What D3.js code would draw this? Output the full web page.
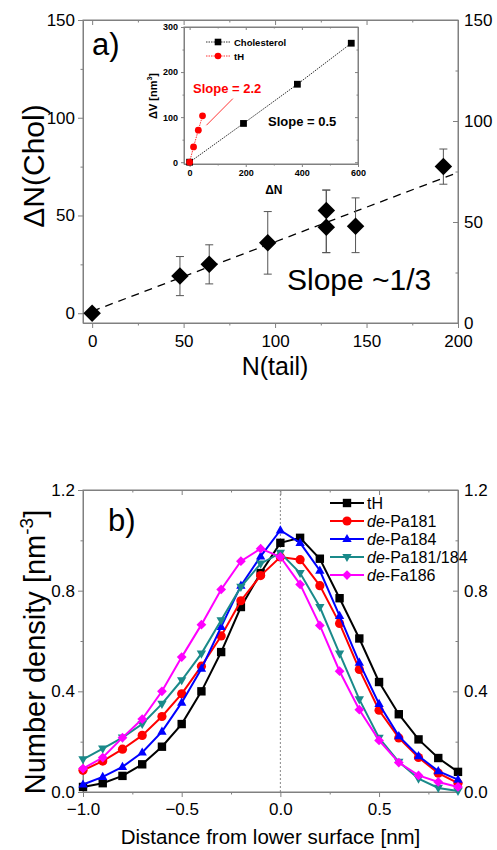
<!DOCTYPE html>
<html>
<head>
<meta charset="utf-8">
<script src="https://cdn.jsdelivr.net/npm/d3@7"></script>
<style>
  body { margin: 0; background: #fff; }
  svg { font-family: "Liberation Sans", Arial, sans-serif; }
  .ax path, .ax line { stroke: #808080; }
  .ax text { fill: #000; }
</style>
</head>
<body>
<svg id="chart" width="497" height="850"></svg>
<script>
// ---- panel a) data ----
const nTail = [0, 48, 64, 96, 128, 128, 144, 192];
const nChol = [0, 19, 25, 36, 44, 52.5, 44.5, 75];
const errLo = [null, 9, 15, 20, 31, 31, 31, 66];
const errHi = [null, 29, 35, 52, 63, 63, 59, 84];
const fitLine = [[0, 1], [200, 72]];

// inset data
const cholN = [0, 192, 384, 576];
const cholV = [0, 86, 173, 264];
const tHN = [0, 14, 31, 46];
const tHV = [0, 34, 71, 103];
const arrowLine = [[60, 82], [154, 141]];

// ---- panel b) data ----
const dist = [-1.0, -0.9, -0.8, -0.7, -0.6, -0.5, -0.4, -0.3, -0.2, -0.1, 0.0, 0.1, 0.2, 0.3, 0.4, 0.5, 0.6, 0.7, 0.8, 0.9];
const tH      = [0.02, 0.035, 0.064, 0.11, 0.18, 0.27, 0.40, 0.556, 0.735, 0.87, 0.99, 1.01, 0.927, 0.77, 0.61, 0.437, 0.309, 0.209, 0.135, 0.08];
const pa181   = [0.086, 0.123, 0.17, 0.225, 0.30, 0.39, 0.50, 0.62, 0.76, 0.86, 0.934, 0.923, 0.82, 0.67, 0.487, 0.325, 0.215, 0.137, 0.075, 0.035];
const pa184   = [0.03, 0.06, 0.10, 0.157, 0.24, 0.355, 0.49, 0.656, 0.82, 0.936, 1.04, 0.99, 0.88, 0.70, 0.514, 0.35, 0.222, 0.143, 0.083, 0.049];
const pa181184 = [0.13, 0.172, 0.216, 0.27, 0.35, 0.444, 0.55, 0.682, 0.815, 0.907, 0.95, 0.87, 0.735, 0.55, 0.368, 0.215, 0.12, 0.053, 0.016, 0.004];
const fa186   = [0.093, 0.137, 0.216, 0.29, 0.40, 0.536, 0.665, 0.805, 0.917, 0.967, 0.934, 0.825, 0.662, 0.48, 0.327, 0.205, 0.117, 0.066, 0.04, 0.02];

const seriesNames = ["tH", "Pa181", "Pa184", "Pa181/184", "Fa186"];
const seriesPrefix = ["", "de-", "de-", "de-", "de-"];
const seriesVals = [tH, pa181, pa184, pa181184, fa186];
const seriesColors = ["#000000", "#ff0000", "#0000ff", "#1a8a8a", "#ff00ff"];
const seriesShapes = ["square", "circle", "triangle", "down", "diamond"];

const svg = d3.select("#chart");
const frame = "#808080";

function markerPath(shape, s) {
  if (shape === "square") return `M${-s},${-s}H${s}V${s}H${-s}Z`;
  if (shape === "diamond") return `M0,${-s * 1.25}L${s * 1.25},0L0,${s * 1.25}L${-s * 1.25},0Z`;
  if (shape === "triangle") return `M0,${-s * 1.3}L${s * 1.2},${s * 0.8}L${-s * 1.2},${s * 0.8}Z`;
  if (shape === "down") return `M0,${s * 1.3}L${s * 1.2},${-s * 0.8}L${-s * 1.2},${-s * 0.8}Z`;
  return null;
}

// draws box axes with mirrored ticks
function boxAxes(g, x, y, opts) {
  const [x0, x1] = x.range();
  const [y0, y1] = y.range();
  // bottom
  g.append("g").attr("class", "ax").attr("transform", `translate(0,${y0})`)
    .call(d3.axisBottom(x).tickValues(opts.xMajor).tickSize(opts.tick).tickPadding(opts.xpad || 3).tickSizeOuter(0).tickFormat(opts.xFmt))
    .call(a => a.selectAll("text").attr("font-size", opts.fs).attr("font-weight", opts.fw || null));
  g.append("g").attr("class", "ax").attr("transform", `translate(0,${y0})`)
    .call(d3.axisBottom(x).tickValues(opts.xMinor).tickSize(opts.tick / 2).tickSizeOuter(0).tickFormat(""));
  // top (inward)
  g.append("g").attr("class", "ax").attr("transform", `translate(0,${y1})`)
    .call(d3.axisBottom(x).tickValues(opts.xMajor).tickSize(opts.tick).tickSizeOuter(0).tickFormat(""));
  g.append("g").attr("class", "ax").attr("transform", `translate(0,${y1})`)
    .call(d3.axisBottom(x).tickValues(opts.xMinor).tickSize(opts.tick / 2).tickSizeOuter(0).tickFormat(""));
  // left
  g.append("g").attr("class", "ax").attr("transform", `translate(${x0},0)`)
    .call(d3.axisLeft(y).tickValues(opts.yMajor).tickSize(opts.tick).tickSizeOuter(0).tickFormat(opts.yFmt))
    .call(a => a.selectAll("text").attr("font-size", opts.fs).attr("font-weight", opts.fw || null));
  g.append("g").attr("class", "ax").attr("transform", `translate(${x0},0)`)
    .call(d3.axisLeft(y).tickValues(opts.yMinor).tickSize(opts.tick / 2).tickSizeOuter(0).tickFormat(""));
  // right (inward ticks)
  const yr = opts.yRight || y;
  g.append("g").attr("class", "ax").attr("transform", `translate(${x1},0)`)
    .call(d3.axisLeft(yr).tickValues(opts.yMajor).tickSize(opts.tick).tickSizeOuter(0).tickFormat(""));
  g.append("g").attr("class", "ax").attr("transform", `translate(${x1},0)`)
    .call(d3.axisLeft(yr).tickValues(opts.yMinor).tickSize(opts.tick / 2).tickSizeOuter(0).tickFormat(""));
  if (opts.rightLabels) {
    g.append("g").attr("class", "ax").attr("transform", `translate(${x1},0)`)
      .call(d3.axisRight(yr).tickValues(opts.yMajor).tickSize(0).tickPadding(6).tickFormat(opts.yFmt))
      .call(a => a.select(".domain").remove())
      .call(a => a.selectAll("text").attr("font-size", opts.fs));
  }
  g.append("rect").attr("x", x0).attr("y", y1).attr("width", x1 - x0).attr("height", y0 - y1)
    .attr("fill", "none").attr("stroke", frame).attr("stroke-width", 1);
}

// ================= panel a =================
const xa = d3.scaleLinear().domain([-5, 200]).range([83, 458]);
const ya = d3.scaleLinear().domain([-5, 150]).range([323, 20]);
const yaR = d3.scaleLinear().domain([0, 150]).range([323, 20]);
const ga = svg.append("g");

boxAxes(ga, xa, ya, {
  xMajor: [0, 50, 100, 150, 200], xMinor: [25, 75, 125, 175],
  yMajor: [0, 50, 100, 150], yMinor: [25, 75, 125],
  tick: 5, fs: 17, xpad: 7, xFmt: d3.format("d"), yFmt: d3.format("d"),
  yRight: yaR, rightLabels: true
});

ga.append("path")
  .attr("d", d3.line().x(d => xa(d[0])).y(d => ya(d[1]))(fitLine))
  .attr("stroke", "#000").attr("stroke-width", 1.3).attr("stroke-dasharray", "8,6").attr("fill", "none");

nTail.forEach((n, i) => {
  if (errLo[i] === null) return;
  const cx = xa(n);
  ga.append("path")
    .attr("d", `M${cx},${ya(errLo[i])}V${ya(errHi[i])}M${cx - 4},${ya(errLo[i])}H${cx + 4}M${cx - 4},${ya(errHi[i])}H${cx + 4}`)
    .attr("stroke", "#555").attr("stroke-width", 1).attr("fill", "none");
});
ga.selectAll(".dia").data(nTail).join("path")
  .attr("transform", (d, i) => `translate(${xa(d)},${ya(nChol[i])})`)
  .attr("d", markerPath("diamond", 7)).attr("fill", "#000");

ga.append("text").attr("x", 92).attr("y", 55).attr("font-size", 31).text("a)");
ga.append("text").attr("x", 287).attr("y", 290).attr("font-size", 30).text("Slope ~1/3");
ga.append("text").attr("transform", "translate(44,166) rotate(-90)").attr("text-anchor", "middle")
  .attr("font-size", 30).text("ΔN(Chol)");
ga.append("text").attr("x", xa(100)).attr("y", 375).attr("text-anchor", "middle")
  .attr("font-size", 25).text("N(tail)");

// inset
const xi = d3.scaleLinear().domain([-20, 600]).range([184, 358]);
const yi = d3.scaleLinear().domain([-4, 300]).range([164, 27]);
const gi = svg.append("g");
gi.append("rect").attr("x", 184).attr("y", 27).attr("width", 174).attr("height", 137).attr("fill", "#fff");
boxAxes(gi, xi, yi, {
  xMajor: [0, 200, 400, 600], xMinor: [100, 300, 500],
  yMajor: [0, 100, 200, 300], yMinor: [50, 150, 250],
  tick: 3, fs: 9, fw: "bold", xFmt: d3.format("d"), yFmt: d3.format("d")
});
const lineI = d3.line().x(d => xi(d[0])).y(d => yi(d[1]));
gi.append("path").attr("d", lineI(cholN.map((n, i) => [n, cholV[i]])))
  .attr("stroke", "#000").attr("stroke-width", 0.8).attr("stroke-dasharray", "1.5,1").attr("fill", "none");
gi.append("path").attr("d", lineI(tHN.map((n, i) => [n, tHV[i]])))
  .attr("stroke", "#ff0000").attr("stroke-width", 0.8).attr("stroke-dasharray", "1.5,1").attr("fill", "none");
gi.append("path").attr("d", lineI(arrowLine)).attr("stroke", "#ff0000").attr("stroke-width", 0.8).attr("fill", "none");
gi.selectAll(".sq").data(cholN).join("path")
  .attr("transform", (d, i) => `translate(${xi(d)},${yi(cholV[i])})`)
  .attr("d", markerPath("square", 3.4)).attr("fill", "#000");
gi.selectAll(".ci").data(tHN).join("circle")
  .attr("cx", d => xi(d)).attr("cy", (d, i) => yi(tHV[i])).attr("r", 3.4).attr("fill", "#ff0000");

// inset legend
[["Cholesterol", "#000", "square"], ["tH", "#ff0000", "circle"]].forEach((it, i) => {
  const ly = 42 + i * 14;
  gi.append("line").attr("x1", 206).attr("x2", 230).attr("y1", ly).attr("y2", ly)
    .attr("stroke", it[1]).attr("stroke-width", 0.8).attr("stroke-dasharray", "1.5,1");
  if (it[2] === "square") gi.append("path").attr("transform", `translate(218,${ly})`).attr("d", markerPath("square", 3.3)).attr("fill", it[1]);
  else gi.append("circle").attr("cx", 218).attr("cy", ly).attr("r", 3.3).attr("fill", it[1]);
  gi.append("text").attr("x", 234).attr("y", ly + 3.5).attr("font-size", 9.5).attr("font-weight", "bold").text(it[0]);
});
gi.append("text").attr("x", 193).attr("y", 93).attr("font-size", 13).attr("font-weight", "bold").attr("fill", "#ff0000").text("Slope = 2.2");
gi.append("text").attr("x", 268).attr("y", 126).attr("font-size", 13).attr("font-weight", "bold").text("Slope = 0.5");
gi.append("text").attr("x", xi(300)).attr("y", 194).attr("text-anchor", "middle").attr("font-size", 12).attr("font-weight", "bold").text("ΔN");
const vl = gi.append("text").attr("transform", "translate(157,96) rotate(-90)").attr("text-anchor", "middle")
  .attr("font-size", 11).attr("font-weight", "bold");
vl.append("tspan").text("ΔV [nm");
vl.append("tspan").attr("font-size", 7).attr("dy", -5).text("3");
vl.append("tspan").attr("dy", 5).text("]");

// ================= panel b =================
const xb = d3.scaleLinear().domain([-1.0, 0.9]).range([83, 458]);
const yb = d3.scaleLinear().domain([0, 1.2]).range([792, 490]);
const gb = svg.append("g");

gb.append("line").attr("x1", xb(0)).attr("x2", xb(0)).attr("y1", 490).attr("y2", 792)
  .attr("stroke", "#888").attr("stroke-width", 1).attr("stroke-dasharray", "2,2");

boxAxes(gb, xb, yb, {
  xMajor: [-1.0, -0.5, 0.0, 0.5], xMinor: [-0.75, -0.25, 0.25, 0.75],
  yMajor: [0, 0.4, 0.8, 1.2], yMinor: [0.2, 0.6, 1.0],
  tick: 5, fs: 17, xpad: 6, xFmt: d3.format(".1f"), yFmt: d3.format(".1f"),
  rightLabels: true
});

const lineB = d3.line().x((d, i) => xb(dist[i])).y(d => yb(d));
seriesVals.forEach((vals, k) => {
  const g = gb.append("g");
  g.append("path").attr("d", lineB(vals)).attr("stroke", seriesColors[k]).attr("stroke-width", 2).attr("fill", "none");
  vals.forEach((v, i) => {
    if (seriesShapes[k] === "circle") g.append("circle").attr("cx", xb(dist[i])).attr("cy", yb(v)).attr("r", 4.6).attr("fill", seriesColors[k]);
    else g.append("path").attr("transform", `translate(${xb(dist[i])},${yb(v)})`)
      .attr("d", markerPath(seriesShapes[k], seriesShapes[k] === "square" ? 4.2 : 3.9)).attr("fill", seriesColors[k]);
  });
});

// legend
seriesNames.forEach((nm, k) => {
  const ly = 503 + k * 18;
  gb.append("line").attr("x1", 330).attr("x2", 364).attr("y1", ly).attr("y2", ly)
    .attr("stroke", seriesColors[k]).attr("stroke-width", 2);
  if (seriesShapes[k] === "circle") gb.append("circle").attr("cx", 347).attr("cy", ly).attr("r", 4.6).attr("fill", seriesColors[k]);
  else gb.append("path").attr("transform", `translate(347,${ly})`).attr("d", markerPath(seriesShapes[k], seriesShapes[k] === "square" ? 4.2 : 3.9)).attr("fill", seriesColors[k]);
  const t = gb.append("text").attr("x", 367).attr("y", ly + 6).attr("font-size", 16);
  if (seriesPrefix[k]) {
    t.append("tspan").attr("font-style", "italic").text("de");
    t.append("tspan").text("-" + nm);
  } else t.text(nm);
});

gb.append("text").attr("x", 108).attr("y", 531).attr("font-size", 31).text("b)");
const yl = gb.append("text").attr("transform", "translate(45,652) rotate(-90)").attr("text-anchor", "middle").attr("font-size", 29);
yl.append("tspan").text("Number density [nm");
yl.append("tspan").attr("font-size", 19).attr("dy", -12).text("-3");
yl.append("tspan").attr("dy", 12).text("]");
gb.append("text").attr("x", xb(-0.05)).attr("y", 844).attr("text-anchor", "middle").attr("font-size", 20.5)
  .text("Distance from lower surface [nm]");
</script>
</body>
</html>
